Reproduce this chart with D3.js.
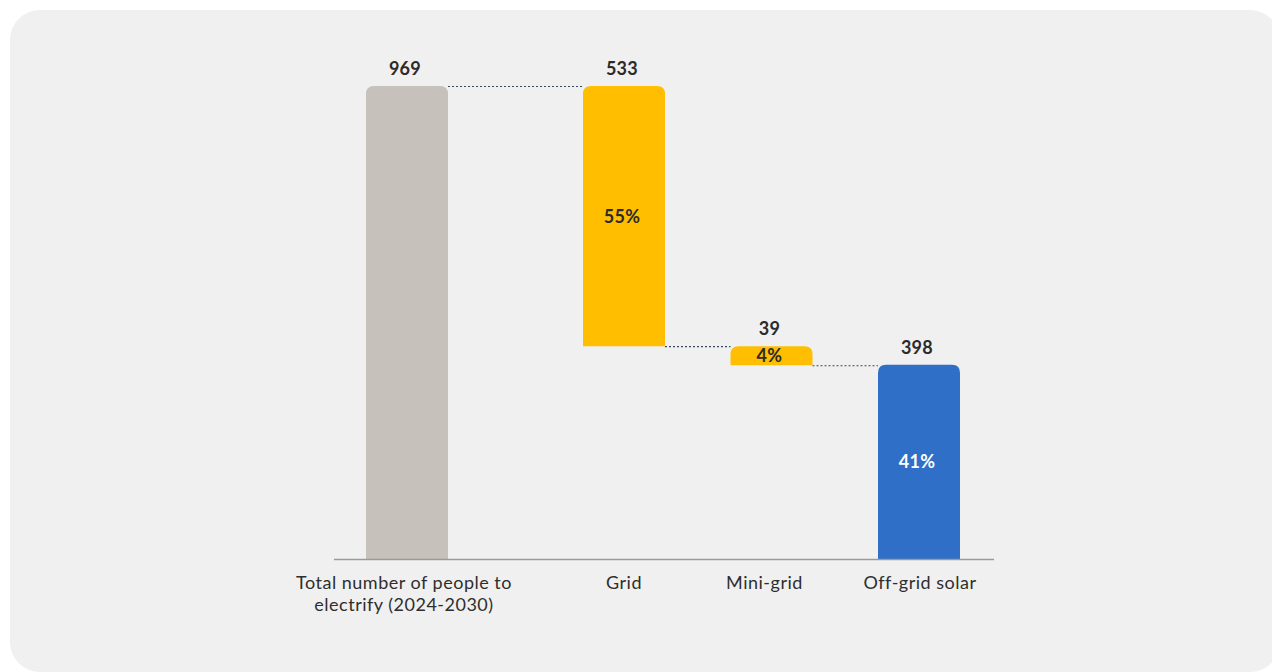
<!DOCTYPE html>
<html>
<head>
<meta charset="utf-8">
<script src="https://cdn.jsdelivr.net/npm/d3@7"></script>
<style>
  html, body { margin: 0; padding: 0; background: #ffffff; }
  svg { display: block; }
</style>
</head>
<body>
<svg id="chart" width="1272" height="672"></svg>
<script>
// ---- Data ----
const categories = ["Total number of people to\nelectrify (2024-2030)", "Grid", "Mini-grid", "Off-grid solar"];
const values = [969, 533, 39, 398];
const shares = [null, "55%", "4%", "41%"];
const kinds = ["total", "step", "step", "end"];
const colors = ["#C6C1BB", "#FFBE00", "#FFBE00", "#2F6FC8"];
const shareColors = [null, "#2b2b2b", "#2b2b2b", "#ffffff"];

// ---- Layout ----
const svg = d3.select("#chart");
const baseY = 559, topY = 86;
const axisX0 = 334, axisX1 = 994;
const barW = 82;
const FONT = "Lato, 'Noto Sans', sans-serif";

svg.append("rect").attr("x", 10).attr("y", 10).attr("width", 1270).attr("height", 662)
  .attr("rx", 30).attr("ry", 30).attr("fill", "#F0F0F0");

const y = d3.scaleLinear().domain([0, values[0]]).range([baseY, topY]);

// x positions: components on a point scale, total bar offset to the left
const xComp = d3.scalePoint().domain(categories.slice(1)).range([624, 919]);
const cx = c => c === categories[0] ? 407 : xComp(c);
const labelShift = [-3, 0, -7, 1];

// compute waterfall extents
let running = values[0];
const bars = categories.map((c, i) => {
  let lo, hi;
  if (kinds[i] === "total" || kinds[i] === "end") { lo = 0; hi = values[i]; }
  else { hi = running; lo = running - values[i]; running = lo; }
  return { c, i, lo, hi, v: values[i], share: shares[i] };
});

function topRounded(x, yTop, w, yBot, r) {
  r = Math.min(r, (yBot - yTop), w / 2);
  return `M${x},${yBot}L${x},${yTop + r}Q${x},${yTop} ${x + r},${yTop}L${x + w - r},${yTop}Q${x + w},${yTop} ${x + w},${yTop + r}L${x + w},${yBot}Z`;
}

// connectors
for (let i = 0; i < bars.length - 1; i++) {
  const a = bars[i], b = bars[i + 1];
  const level = (kinds[i] === "total") ? a.hi : a.lo;
  svg.append("line")
    .attr("x1", cx(a.c) + barW / 2).attr("x2", cx(b.c) - barW / 2)
    .attr("y1", y(level) + 0.5).attr("y2", y(level) + 0.5)
    .attr("stroke", "#3a4a63").attr("stroke-width", 1.1)
    .attr("stroke-dasharray", "2,2");
}

// bars
svg.selectAll("path.bar").data(bars).enter().append("path")
  .attr("class", "bar")
  .attr("d", d => topRounded(cx(d.c) - barW / 2, y(d.hi), barW, y(d.lo), 8))
  .attr("fill", d => colors[d.i]);

// axis baseline
svg.append("line").attr("x1", axisX0).attr("x2", axisX1)
  .attr("y1", baseY + 0.5).attr("y2", baseY + 0.5)
  .attr("stroke", "#9a9a9a").attr("stroke-width", 1.5);

// value labels
svg.selectAll("text.val").data(bars).enter().append("text")
  .attr("class", "val")
  .attr("x", d => cx(d.c) - 2).attr("y", d => y(d.hi) - 11)
  .attr("text-anchor", "middle")
  .attr("font-family", FONT).attr("font-weight", 700).attr("font-size", 18)
  .attr("letter-spacing", 0.3)
  .attr("fill", "#2b2b2b")
  .text(d => d.v);

// share labels
svg.selectAll("text.share").data(bars.filter(d => d.share)).enter().append("text")
  .attr("class", "share")
  .attr("x", d => cx(d.c) - 2).attr("y", d => (y(d.hi) + y(d.lo)) / 2)
  .attr("dy", "0.36em")
  .attr("text-anchor", "middle")
  .attr("font-family", FONT).attr("font-weight", 700).attr("font-size", 18)
  .attr("letter-spacing", 0.3)
  .attr("fill", d => shareColors[d.i])
  .text(d => d.share);

// category labels
categories.forEach((c, i) => {
  const lines = c.split("\n");
  const lx = cx(c) + labelShift[i];
  const t = svg.append("text")
    .attr("x", lx).attr("y", 589)
    .attr("text-anchor", "middle")
    .attr("font-family", FONT).attr("font-size", 18)
    .attr("letter-spacing", 0.5)
    .attr("fill", "#2e2e2e");
  lines.forEach((ln, k) => {
    t.append("tspan").attr("x", lx).attr("dy", k === 0 ? 0 : 22).text(ln);
  });
});
</script>
</body>
</html>
